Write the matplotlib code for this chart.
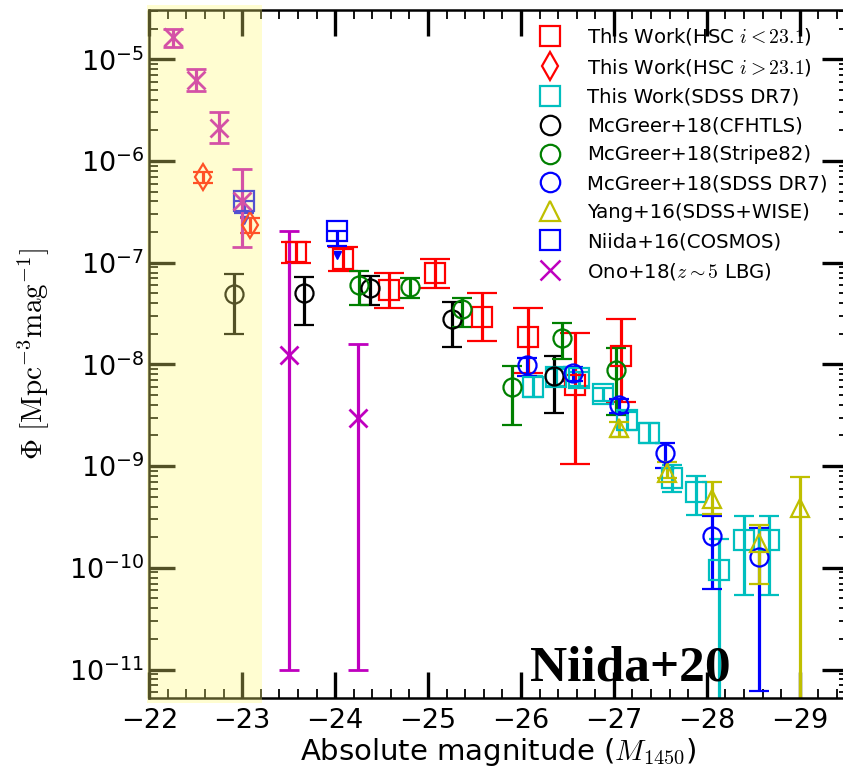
import numpy as np
import matplotlib
matplotlib.use("Agg")
import matplotlib.pyplot as plt
import matplotlib.transforms as mtransforms
from matplotlib.lines import Line2D
from matplotlib.patches import Rectangle
from matplotlib.ticker import MultipleLocator

# This Work (HSC i<23.1)
hsc_bright_m = [-23.58, -24.08, -24.58, -25.08, -25.58, -26.08, -26.58, -27.08]
hsc_bright_phi = [1.26e-7, 1.09e-7, 5.4e-8, 8.0e-8, 2.94e-8, 1.85e-8, 6.3e-9, 1.21e-8]
hsc_bright_lo = [9.9e-8, 8.3e-8, 3.6e-8, 5.7e-8, 1.7e-8, 8.3e-9, 1.06e-9, 4.3e-9]
hsc_bright_hi = [1.61e-7, 1.42e-7, 7.9e-8, 1.09e-7, 5.07e-8, 3.56e-8, 2.02e-8, 2.79e-8]

# This Work (HSC i>23.1)
hsc_faint_m = [-22.58, -23.08]
hsc_faint_phi = [7.0e-7, 2.35e-7]
hsc_faint_lo = [6.1e-7, 1.95e-7]
hsc_faint_hi = [7.8e-7, 2.74e-7]

# This Work (SDSS DR7)
sdss_m = [-26.13, -26.38, -26.63, -26.88, -27.14, -27.38, -27.63, -27.88, -28.13, -28.40, -28.67]
sdss_phi = [6.0e-9, 7.5e-9, 7.3e-9, 5.1e-9, 2.84e-9, 2.1e-9, 7.7e-10, 5.6e-10, 9.5e-11, 1.87e-10, 1.87e-10]
sdss_lo = [4.8e-9, 6.2e-9, 6.2e-9, 4.4e-9, 2.27e-9, 1.67e-9, 5.6e-10, 3.3e-10, 1e-12, 5.4e-11, 5.4e-11]
sdss_hi = [7.7e-9, 9.0e-9, 8.5e-9, 5.9e-9, 3.43e-9, 2.64e-9, 1.03e-9, 8.0e-10, 1.9e-10, 3.2e-10, 3.2e-10]

# McGreer+18 (CFHTLS)
cfhtls_m = [-22.91, -23.66, -24.38, -25.26, -26.36]
cfhtls_phi = [4.9e-8, 5.0e-8, 5.6e-8, 2.77e-8, 7.7e-9]
cfhtls_lo = [2.0e-8, 2.44e-8, 3.84e-8, 1.49e-8, 3.3e-9]
cfhtls_hi = [7.75e-8, 7.3e-8, 7.4e-8, 4.14e-8, 1.21e-8]

# McGreer+18 (Stripe82)
s82_m = [-24.26, -24.81, -25.37, -25.90, -26.44, -27.02]
s82_phi = [6.0e-8, 5.8e-8, 3.5e-8, 6.0e-9, 1.81e-8, 8.9e-9]
s82_lo = [3.8e-8, 4.5e-8, 2.35e-8, 2.53e-9, 1.12e-8, 3.2e-9]
s82_hi = [8.2e-8, 7.1e-8, 4.5e-8, 9.6e-9, 2.57e-8, 1.46e-8]

# McGreer+18 (SDSS DR7)
mcg_sdss_m = [-26.07, -26.56, -27.05, -27.55, -28.06, -28.56]
mcg_sdss_phi = [9.9e-9, 8.2e-9, 4.0e-9, 1.34e-9, 2.06e-10, 1.29e-10]
mcg_sdss_lo = [7.7e-9, 6.8e-9, 3.3e-9, 9.5e-10, 6.2e-11, 6.2e-12]
mcg_sdss_hi = [1.15e-8, 9.5e-9, 4.6e-9, 1.7e-9, 3.25e-10, 2.44e-10]

# Yang+16 (SDSS+WISE)
yang_m = [-27.05, -27.57, -28.06, -28.56, -29.00]
yang_phi = [2.35e-9, 8.5e-10, 4.8e-10, 1.74e-10, 3.85e-10]
yang_lo = [1.95e-9, 7.6e-10, 3.4e-10, 6.9e-11, 1e-12]
yang_hi = [2.74e-9, 1.1e-9, 7.0e-10, 2.64e-10, 7.9e-10]

# Niida+16 (COSMOS), lower end marked with a caret
cosmos_m = [-23.02, -24.02]
cosmos_phi = [4.0e-7, 2.04e-7]
cosmos_lo = [3.05e-7, 1.45e-7]
cosmos_caret = [2.6e-7, 1.2e-7]

# Ono+18 (z~5 LBG)
ono_m = [-22.25, -22.50, -22.75, -23.00, -23.50, -24.25]
ono_phi = [1.64e-5, 6.25e-6, 2.12e-6, 4.0e-7, 1.24e-8, 2.95e-9]
ono_lo = [1.33e-5, 4.9e-6, 1.49e-6, 1.42e-7, 1e-11, 1e-11]
ono_hi = [1.99e-5, 8.0e-6, 3.0e-6, 8.3e-7, 2.05e-7, 1.6e-8]


def asym_err(phi, lo, hi):
    phi = np.asarray(phi)
    return [phi - np.asarray(lo), np.asarray(hi) - phi]


def draw_set(ax, m, phi, lo, hi, color, marker, ms=14, capsize=7.5, mew=1.6):
    ax.errorbar(m, phi, yerr=asym_err(phi, lo, hi), fmt=marker, color=color,
                mfc="none", mec=color, ms=ms, mew=mew, elinewidth=2.3,
                capsize=capsize, capthick=2.3)


def main():
    plt.rcParams["mathtext.fontset"] = "cm"
    plt.rcParams["font.family"] = "DejaVu Sans"

    fig = plt.figure(figsize=(8.43, 7.74), dpi=100)
    ax = fig.add_axes([149.3 / 843, 76 / 774, (848 - 149.3) / 843, 688 / 774])

    draw_set(ax, hsc_bright_m, hsc_bright_phi, hsc_bright_lo, hsc_bright_hi, "r", "s", capsize=10.5)
    draw_set(ax, hsc_faint_m, hsc_faint_phi, hsc_faint_lo, hsc_faint_hi, "r", "d", ms=13, capsize=7)
    draw_set(ax, sdss_m, sdss_phi, sdss_lo, sdss_hi, "c", "s", capsize=7)
    draw_set(ax, cfhtls_m, cfhtls_phi, cfhtls_lo, cfhtls_hi, "k", "o", ms=13)
    draw_set(ax, s82_m, s82_phi, s82_lo, s82_hi, "g", "o", ms=13)
    draw_set(ax, mcg_sdss_m, mcg_sdss_phi, mcg_sdss_lo, mcg_sdss_hi, "b", "o", ms=13)
    draw_set(ax, yang_m, yang_phi, yang_lo, yang_hi, "y", "^", ms=13)

    # Niida+16: square with a short drop to a filled caret
    cosmos_err = [np.asarray(cosmos_phi) - np.asarray(cosmos_lo), np.zeros(len(cosmos_phi))]
    ax.errorbar(cosmos_m, cosmos_phi, yerr=cosmos_err, fmt="s", color="b", mfc="none",
                ms=14, mew=1.6, elinewidth=2.3, capsize=7, capthick=2.3)
    ax.plot(cosmos_m, cosmos_caret, "v", color="b", ms=6, ls="none")

    draw_set(ax, ono_m, ono_phi, ono_lo, ono_hi, "m", "x", ms=13, capsize=7, mew=2)

    ax.set_yscale("log")
    ax.set_xlim(-22, -29.52)
    ax.set_ylim(5.25e-12, 3.05e-5)
    ax.xaxis.set_major_locator(MultipleLocator(1))
    ax.xaxis.set_minor_locator(MultipleLocator(0.2))
    ax.tick_params(which="both", direction="in", top=True, right=True, labelsize=19.5)
    ax.tick_params(axis="x", which="major", pad=7)
    ax.tick_params(which="major", length=19, width=2.4)
    ax.tick_params(which="minor", length=6.5, width=1.3)
    for sp in ax.spines.values():
        sp.set_linewidth(1.8)

    ax.set_xlabel(r"Absolute magnitude ($M_{1450}$)", fontsize=21, labelpad=2)
    ax.set_ylabel(r"$\Phi\ [\mathrm{Mpc^{-3}mag^{-1}}]$", fontsize=21, labelpad=12)

    # shaded faint-end band laid over everything, spines included
    trans = mtransforms.blended_transform_factory(ax.transData, ax.transAxes)
    band = Rectangle((-23.21, -0.007), 1.23, 1.014, transform=trans, clip_on=False,
                     facecolor=(1.0, 0.976, 0.463), alpha=0.33, edgecolor="none", zorder=20)
    ax.add_patch(band)

    handles = [
        Line2D([], [], ls="none", marker="s", ms=14, mfc="none", mec="r", mew=1.6),
        Line2D([], [], ls="none", marker="d", ms=14, mfc="none", mec="r", mew=1.6),
        Line2D([], [], ls="none", marker="s", ms=14, mfc="none", mec="c", mew=1.6),
        Line2D([], [], ls="none", marker="o", ms=14, mfc="none", mec="k", mew=1.6),
        Line2D([], [], ls="none", marker="o", ms=14, mfc="none", mec="g", mew=1.6),
        Line2D([], [], ls="none", marker="o", ms=14, mfc="none", mec="b", mew=1.6),
        Line2D([], [], ls="none", marker="^", ms=14, mfc="none", mec="y", mew=1.6),
        Line2D([], [], ls="none", marker="s", ms=14, mfc="none", mec="b", mew=1.6),
        Line2D([], [], ls="none", marker="x", ms=14, mfc="none", mec="m", mew=1.8),
    ]
    labels = [
        r"This Work(HSC $i<23.1$)",
        r"This Work(HSC $i>23.1$)",
        "This Work(SDSS DR7)",
        "McGreer+18(CFHTLS)",
        "McGreer+18(Stripe82)",
        "McGreer+18(SDSS DR7)",
        "Yang+16(SDSS+WISE)",
        "Niida+16(COSMOS)",
        r"Ono+18($z\sim5$ LBG)",
    ]
    fig.legend(handles, labels, loc="upper left", bbox_to_anchor=(540 / 843, 1 - 26 / 774),
               frameon=False, fontsize=14.2, borderpad=0, borderaxespad=0,
               handlelength=1.0, handletextpad=1.38, labelspacing=0.5)

    ax.text(0.545, 0.026, "Niida+20", transform=ax.transAxes, fontsize=37,
            fontweight="bold", family="Liberation Serif", va="baseline", ha="left", zorder=25)

    fig.savefig("out.png", dpi=100)


if __name__ == "__main__":
    main()
